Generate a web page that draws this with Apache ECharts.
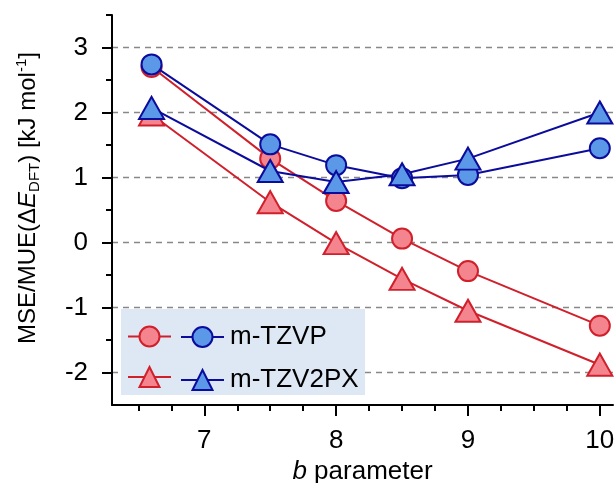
<!DOCTYPE html>
<html>
<head>
<meta charset="utf-8">
<script src="https://cdn.jsdelivr.net/npm/echarts@6/dist/echarts.min.js"></script>
<style>
html,body{margin:0;padding:0;background:#fff;}
#c{width:616px;height:483px;}
</style>
</head>
<body>
<div id="c"></div>
<script>
// ---- data ----
const bValues = [6.6, 7.5, 8, 8.5, 9, 10];
const mseTZVP = [2.70, 1.29, 0.64, 0.06, -0.44, -1.28];
const mueTZVP = [2.74, 1.51, 1.19, 0.99, 1.04, 1.45];
const mseTZV2PX = [1.97, 0.62, -0.01, -0.56, -1.05, -1.88];
const mueTZV2PX = [2.07, 1.10, 0.93, 1.05, 1.29, 2.00];
const xMajorTicks = [7, 8, 9, 10];
const xMinorTicks = [6.5, 6.75, 7.25, 7.5, 7.75, 8.25, 8.5, 8.75, 9.25, 9.5, 9.75];
const yMajorTicks = [-2, -1, 0, 1, 2, 3];
const yMinorTicks = [-1.5, -0.5, 0.5, 1.5, 2.5, 3.5];
const basisNames = ['m-TZVP', 'm-TZV2PX'];

const FONT = 'Liberation Sans, Arial, sans-serif';
const RED_LINE = '#d0202c', RED_FILL = '#f4858f';
const BLUE_LINE = '#0c0c9c', BLUE_FILL = '#5b98e8';

function pts(ys){ return bValues.map((x,i)=>[x, ys[i]]); }

function mkSeries(name, ys, symbol, lineC, fillC, z){
  return {
    name: name, type: 'line', data: pts(ys),
    symbol: symbol,
    symbolSize: symbol === 'circle' ? 20 : [25, 22],
    lineStyle: {color: lineC, width: 2},
    itemStyle: {color: fillC, borderColor: lineC, borderWidth: 2},
    z: z,
    emphasis: {disabled: true},
    animation: false
  };
}

const chart = echarts.init(document.getElementById('c'), null, {renderer: 'canvas'});
chart.setOption({
  animation: false,
  backgroundColor: '#fff',
  grid: {left: 112, right: 3, top: 15, bottom: 78, containLabel: false, outerBoundsMode: 'none'},
  graphic: [{
    type: 'rect', shape: {x: 121, y: 309, width: 244, height: 86},
    style: {fill: '#dde8f4'}, z: 1, silent: true
  }],
  legend: [{
    left: 122, top: 319, orient: 'vertical',
    itemWidth: 43, itemHeight: 25, itemGap: 17,
    data: ['MSE ' + basisNames[0], 'MSE ' + basisNames[1]],
    formatter: () => '',
    textStyle: {fontSize: 1},
    selectedMode: false
  }, {
    left: 175, top: 319, orient: 'vertical',
    itemWidth: 43, itemHeight: 25, itemGap: 17,
    data: ['MUE ' + basisNames[0], 'MUE ' + basisNames[1]],
    formatter: (n) => n.replace('MUE ', ''),
    textStyle: {fontSize: 26, fontFamily: FONT, color: '#000', padding: [0,0,0,1]},
    selectedMode: false
  }],
  xAxis: [{
    type: 'value', min: 6.3, max: 10.1, position: 'bottom',
    name: '{i|b} parameter', nameLocation: 'middle', nameGap: 45,
    nameTextStyle: {fontSize: 26, fontFamily: FONT, color: '#000',
      rich: {i: {fontStyle: 'italic', fontSize: 26, fontFamily: FONT, color: '#000'}}},
    axisLine: {onZero: false, lineStyle: {color: '#000', width: 2}},
    axisTick: {customValues: xMajorTicks, length: 11, lineStyle: {color: '#000', width: 2}},
    axisLabel: {customValues: xMajorTicks, fontSize: 26, fontFamily: FONT, color: '#000', margin: 23},
    splitLine: {show: false}
  }, {
    type: 'value', min: 6.3, max: 10.1, position: 'bottom',
    axisLine: {show: false, onZero: false},
    axisTick: {customValues: xMinorTicks, length: 6, lineStyle: {color: '#000', width: 2}},
    axisLabel: {show: false},
    splitLine: {show: false}
  }],
  yAxis: [{
    type: 'value', min: -2.5, max: 3.5, position: 'left',
    name: '{n|MSE/MUE(Δ}{i|E}{sub|DFT}{n|) [kJ mol}{sup|-1}{n|]}',
    nameLocation: 'middle', nameGap: 70, nameRotate: 90,
    nameTextStyle: {fontSize: 24, fontFamily: FONT, color: '#000', padding: [0, 0, 0, 24],
      rich: {
        n: {fontSize: 24, fontFamily: FONT, color: '#000', lineHeight: 28},
        i: {fontSize: 24, fontFamily: FONT, color: '#000', fontStyle: 'italic', lineHeight: 28},
        sub: {fontSize: 15, fontFamily: FONT, color: '#000', verticalAlign: 'bottom', lineHeight: 15, padding: [11,0,0,0]},
        sup: {fontSize: 15, fontFamily: FONT, color: '#000', verticalAlign: 'top', lineHeight: 15, padding: [0,0,9,0]}
      }},
    axisLine: {onZero: false, lineStyle: {color: '#000', width: 2}},
    axisTick: {customValues: yMajorTicks, length: 10, lineStyle: {color: '#000', width: 2}},
    axisLabel: {customValues: yMajorTicks, fontSize: 26, fontFamily: FONT, color: '#000', margin: 24},
    splitLine: {show: true, lineStyle: {color: '#888', width: 1.3, type: [6, 5]}}
  }, {
    type: 'value', min: -2.5, max: 3.5, position: 'left',
    axisLine: {show: false, onZero: false},
    axisTick: {customValues: yMinorTicks, length: 6, lineStyle: {color: '#000', width: 2}},
    axisLabel: {show: false},
    splitLine: {show: false}
  }],
  series: [
    mkSeries('MSE ' + basisNames[0], mseTZVP, 'circle', RED_LINE, RED_FILL, 3),
    mkSeries('MSE ' + basisNames[1], mseTZV2PX, 'triangle', RED_LINE, RED_FILL, 3),
    mkSeries('MUE ' + basisNames[0], mueTZVP, 'circle', BLUE_LINE, BLUE_FILL, 4),
    mkSeries('MUE ' + basisNames[1], mueTZV2PX, 'triangle', BLUE_LINE, BLUE_FILL, 4)
  ]
});
</script>
</body>
</html>
